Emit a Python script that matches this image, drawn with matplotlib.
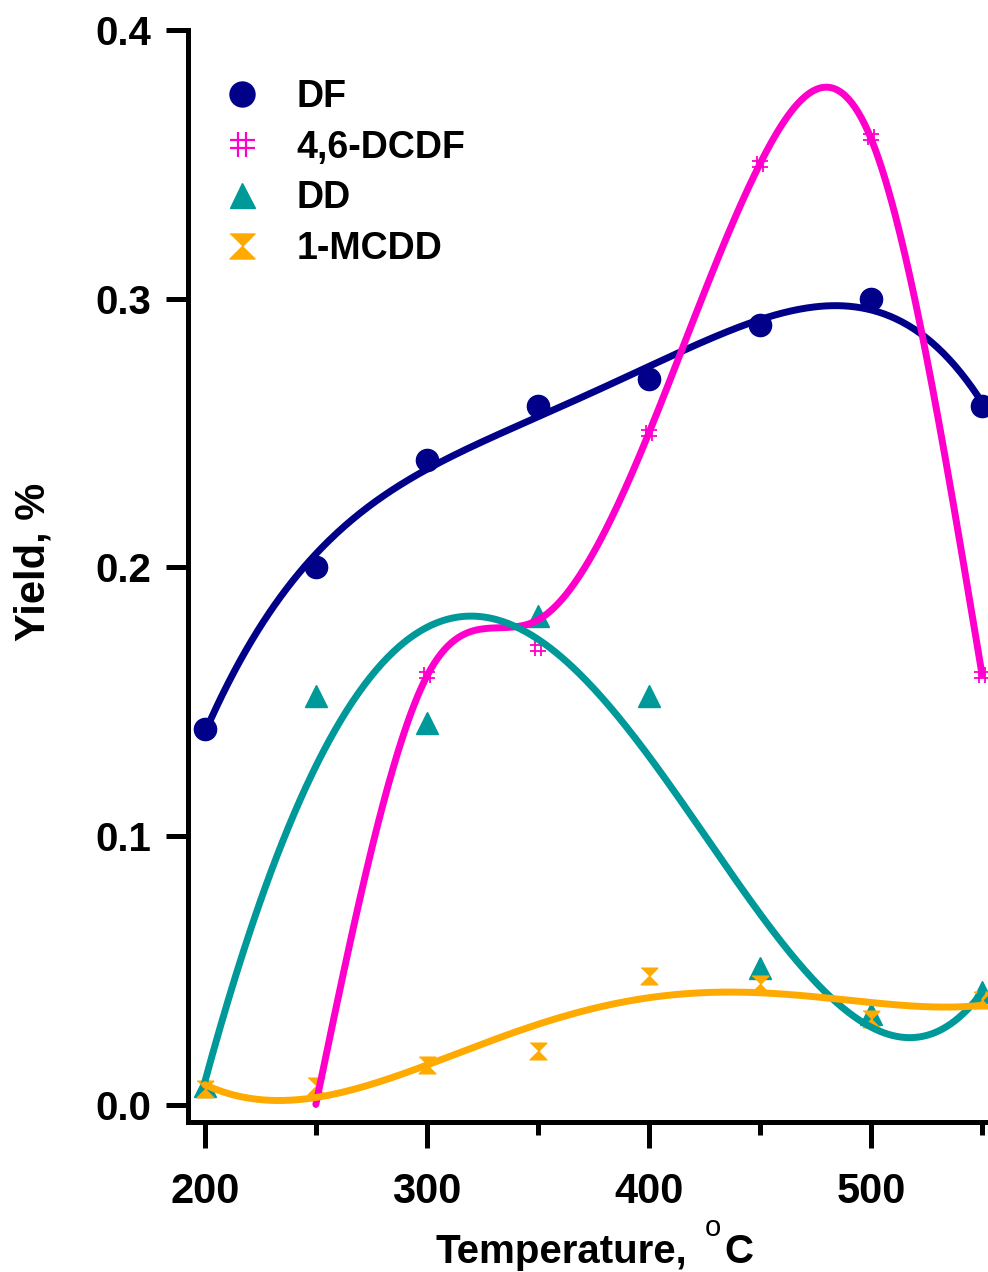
import numpy as np
import matplotlib
matplotlib.use("Agg")
import matplotlib.pyplot as plt
from matplotlib.path import Path
from matplotlib.lines import Line2D

plt.rcParams['font.family'] = ['Liberation Sans', 'DejaVu Sans']
plt.rcParams['font.weight'] = 'bold'

# Yield data (%) versus temperature (°C)
temperature = [200, 250, 300, 350, 400, 450, 500, 550]
df_yield = [0.140, 0.200, 0.240, 0.260, 0.270, 0.290, 0.300, 0.260]
dcdf_temperature = [250, 300, 350, 400, 450, 500, 550]
dcdf_yield = [0.000, 0.160, 0.170, 0.250, 0.350, 0.360, 0.160]
dd_yield = [0.007, 0.152, 0.142, 0.182, 0.152, 0.051, 0.034, 0.042]
mcdd_yield = [0.006, 0.007, 0.015, 0.020, 0.048, 0.045, 0.032, 0.039]

series_names = ['DF', '4,6-DCDF', 'DD', '1-MCDD']
colors = {'DF': '#000088', '4,6-DCDF': '#ff00cc', 'DD': '#009999', '1-MCDD': '#ffaa00'}

# custom marker shapes
hash_marker = Path(
    [(-0.35, -1), (-0.35, 1), (0.35, -1), (0.35, 1),
     (-1, -0.35), (1, -0.35), (-1, 0.35), (1, 0.35)],
    [Path.MOVETO, Path.LINETO, Path.MOVETO, Path.LINETO,
     Path.MOVETO, Path.LINETO, Path.MOVETO, Path.LINETO])
hourglass_marker = Path(
    [(-1, 1), (1, 1), (0, 0), (-1, -1), (1, -1), (0, 0), (-1, 1)],
    [Path.MOVETO, Path.LINETO, Path.LINETO, Path.MOVETO, Path.LINETO,
     Path.LINETO, Path.CLOSEPOLY])


def smoothing_spline(x, y, lam, xs, w=None):
    """Weighted cubic smoothing spline with natural end conditions."""
    x = np.asarray(x, float)
    y = np.asarray(y, float)
    n = len(x)
    w = np.ones(n) if w is None else np.asarray(w, float)
    h = np.diff(x)
    Q = np.zeros((n, n - 2))
    R = np.zeros((n - 2, n - 2))
    for j in range(1, n - 1):
        Q[j - 1, j - 1] = 1 / h[j - 1]
        Q[j, j - 1] = -1 / h[j - 1] - 1 / h[j]
        Q[j + 1, j - 1] = 1 / h[j]
        R[j - 1, j - 1] = (h[j - 1] + h[j]) / 3
        if j < n - 2:
            R[j - 1, j] = R[j, j - 1] = h[j] / 6
    Winv = np.diag(1 / w)
    gamma = np.linalg.solve(R + lam * Q.T @ Winv @ Q, Q.T @ y)
    g = y - lam * Winv @ Q @ gamma
    M = np.concatenate([[0], gamma, [0]])
    idx = np.clip(np.searchsorted(x, xs) - 1, 0, n - 2)
    x0, x1 = x[idx], x[idx + 1]
    hh = x1 - x0
    t0, t1 = x1 - xs, xs - x0
    return (M[idx] * t0 ** 3 / (6 * hh) + M[idx + 1] * t1 ** 3 / (6 * hh)
            + (g[idx] / hh - M[idx] * hh / 6) * t0
            + (g[idx + 1] / hh - M[idx + 1] * hh / 6) * t1)


def poly_curve(x, y, deg, xs, w=None):
    return np.polyval(np.polyfit(x, y, deg, w=w), xs)


fig = plt.figure(figsize=(9.88, 12.72), dpi=100)
ax = fig.add_axes([0.190, 0.118, 0.81, 0.8586])

xs = np.linspace(200, 550, 400)
xs_dcdf = np.linspace(250, 550, 400)
lw = 5

# measured points (a zero yield gets no marker), fitted curves drawn over them
dcdf_x = [t for t, v in zip(dcdf_temperature, dcdf_yield) if v > 0]
dcdf_y = [v for v in dcdf_yield if v > 0]
ax.plot(temperature, df_yield, 'o', color=colors['DF'], ms=16, zorder=2)
ax.plot(dcdf_x, dcdf_y, ls='none', marker=hash_marker,
        mfc='none', mec=colors['4,6-DCDF'], ms=12, mew=1.3, zorder=2)
ax.plot(temperature, dd_yield, '^', color=colors['DD'], ms=15.5, zorder=2)
ax.plot(temperature, mcdd_yield, ls='none', marker=hourglass_marker,
        color=colors['1-MCDD'], ms=12, zorder=2)

ax.plot(xs, poly_curve(temperature, df_yield, 4, xs), color=colors['DF'],
        lw=lw, solid_capstyle='round', zorder=3)
ax.plot(xs_dcdf, smoothing_spline(dcdf_temperature, dcdf_yield, 100, xs_dcdf,
                                  [1, 1, 0.035, 1, 1, 1, 1]),
        color=colors['4,6-DCDF'], lw=lw, solid_capstyle='round', zorder=3)
ax.plot(xs, poly_curve(temperature, dd_yield, 4, xs, w=[2, 1, 1, 1, 1, 1, 1, 1]),
        color=colors['DD'], lw=lw, solid_capstyle='round', zorder=3)
ax.plot(xs, poly_curve(temperature, mcdd_yield, 4, xs), color=colors['1-MCDD'],
        lw=lw, solid_capstyle='round', zorder=3)

ax.set_xlim(192.3, 552.7)
ax.set_ylim(-0.0063, 0.4)
ax.spines['top'].set_visible(False)
ax.spines['right'].set_visible(False)
ax.spines['left'].set_linewidth(3.6)
ax.spines['bottom'].set_linewidth(3.6)
ax.spines['left'].set_bounds(-0.0063, 0.4)

ax.set_xticks([200, 300, 400, 500])
ax.set_xticks([250, 350, 450, 550], minor=True)
ax.set_yticks([0.0, 0.1, 0.2, 0.3, 0.4])
ax.set_yticklabels(['0.0', '0.1', '0.2', '0.3', '0.4'])
ax.tick_params(axis='x', which='major', direction='out', length=19, width=3.6,
               labelsize=30, pad=17)
ax.tick_params(axis='x', which='minor', direction='out', length=9, width=3.6)
ax.tick_params(axis='y', which='major', direction='out', length=16, width=3.6,
               labelsize=29, pad=10)
for lab in ax.get_xticklabels() + ax.get_yticklabels():
    lab.set_fontweight('bold')

# x-axis title with a raised degree "o"
fig.text(435 / 988, 9 / 1272, 'Temperature,', fontsize=29, fontweight='bold',
         ha='left', va='baseline')
fig.text(705 / 988, 36 / 1272, 'o', fontsize=21, fontweight='normal',
         ha='left', va='baseline')
fig.text(724 / 988, 9 / 1272, 'C', fontsize=29, fontweight='bold',
         ha='left', va='baseline')

ax.set_ylabel('Yield, %', fontsize=30, fontweight='bold')
ax.yaxis.set_label_coords(-0.168, 0.513)

handles = [
    Line2D([], [], ls='none', marker='o', color=colors['DF'], ms=18),
    Line2D([], [], ls='none', marker=hash_marker, mfc='none',
           mec=colors['4,6-DCDF'], ms=18, mew=1.6),
    Line2D([], [], ls='none', marker='^', color=colors['DD'], ms=18),
    Line2D([], [], ls='none', marker=hourglass_marker, color=colors['1-MCDD'], ms=18),
]
ax.legend(handles, series_names, loc='upper left', bbox_to_anchor=(0.045, 0.955),
          frameon=False, borderaxespad=0, borderpad=0, handlelength=1.0,
          handletextpad=0.94, labelspacing=0.39,
          prop={'weight': 'bold', 'size': 27})

fig.savefig('out.png', dpi=100)
